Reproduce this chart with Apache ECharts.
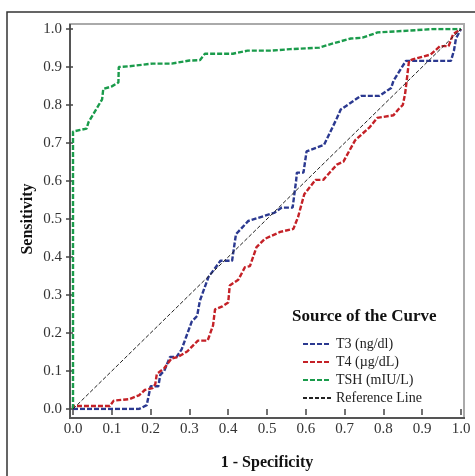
<!DOCTYPE html>
<html>
<head>
<meta charset="utf-8">
<script src="https://cdn.jsdelivr.net/npm/echarts@6/dist/echarts.min.js"></script>
<style>html,body{margin:0;padding:0;background:#fff;}#c{width:475px;height:476px;}</style>
</head>
<body>
<div id="c"></div>
<script>
const tickLabels = ['0.0','0.1','0.2','0.3','0.4','0.5','0.6','0.7','0.8','0.9','1.0'];
const seriesNames = ['T3 (ng/dl)', 'T4 (\u00b5g/dL)', 'TSH (mIU/L)', 'Reference Line'];
const t3 = [[0,0],[0.17,0],[0.19,0.01],[0.2,0.06],[0.22,0.06],[0.225,0.09],[0.235,0.10],[0.25,0.137],[0.267,0.137],[0.28,0.157],[0.306,0.23],[0.32,0.245],[0.327,0.285],[0.349,0.347],[0.38,0.39],[0.41,0.39],[0.42,0.46],[0.452,0.495],[0.49,0.507],[0.52,0.517],[0.538,0.53],[0.566,0.53],[0.575,0.6],[0.577,0.622],[0.594,0.622],[0.602,0.678],[0.647,0.695],[0.68,0.765],[0.69,0.788],[0.742,0.824],[0.79,0.824],[0.82,0.845],[0.826,0.864],[0.858,0.916],[0.974,0.916],[0.982,0.944],[0.987,0.975],[1,1]];
const t4 = [[0,0],[0,0.008],[0.095,0.008],[0.105,0.022],[0.145,0.026],[0.17,0.036],[0.185,0.05],[0.205,0.055],[0.212,0.065],[0.216,0.092],[0.235,0.107],[0.254,0.133],[0.271,0.137],[0.295,0.152],[0.322,0.18],[0.347,0.18],[0.361,0.22],[0.366,0.262],[0.385,0.27],[0.4,0.28],[0.404,0.325],[0.426,0.34],[0.443,0.373],[0.456,0.376],[0.473,0.426],[0.495,0.448],[0.534,0.466],[0.568,0.474],[0.58,0.505],[0.596,0.565],[0.625,0.603],[0.645,0.603],[0.68,0.643],[0.697,0.651],[0.727,0.707],[0.765,0.742],[0.784,0.766],[0.826,0.773],[0.84,0.79],[0.85,0.8],[0.856,0.83],[0.86,0.864],[0.866,0.916],[0.875,0.92],[0.922,0.933],[0.946,0.955],[0.968,0.955],[0.98,0.987],[1,1]];
const tsh = [[0,0],[0,0.73],[0.035,0.738],[0.04,0.755],[0.075,0.815],[0.078,0.842],[0.1,0.849],[0.117,0.859],[0.118,0.9],[0.145,0.902],[0.205,0.909],[0.254,0.909],[0.3,0.917],[0.327,0.918],[0.34,0.935],[0.412,0.935],[0.45,0.943],[0.51,0.943],[0.56,0.947],[0.635,0.951],[0.67,0.962],[0.716,0.975],[0.746,0.977],[0.785,0.991],[0.87,0.996],[0.93,1.0],[1,1]];
const refLine = [[0,0],[1,1]];

const serif = "'Liberation Serif','Times New Roman',serif";
const chart = echarts.init(document.getElementById('c'), null, {renderer:'canvas'});
function curve(name, data, color) {
  return {name, type:'line', data, symbol:'none', silent:true, animation:false,
    lineStyle:{color, width:2.4, type:[5,2]}, itemStyle:{color}};
}
chart.setOption({
  backgroundColor:'#fff',
  animation:false,
  title:{text:'Source of the Curve', left:287, top:303,
    textStyle:{fontFamily:serif, fontSize:17, fontWeight:'bold', color:'#111'}},
  legend:{orient:'vertical', left:297, top:332, itemWidth:28, itemHeight:14, itemGap:4,
    data:seriesNames, selectedMode:false,
    itemStyle:{opacity:0},
    textStyle:{fontFamily:serif, fontSize:14, color:'#222'}},
  grid:{left:73, right:14, top:29, bottom:62},
  xAxis:{type:'value', min:0, max:1, interval:0.1, offset:4,
    name:'1 - Specificity', nameLocation:'middle', nameGap:42,
    nameTextStyle:{fontFamily:serif, fontSize:16, fontWeight:'bold', color:'#111'},
    axisLine:{show:false}, splitLine:{show:false},
    axisTick:{show:true, length:6, lineStyle:{color:'#444', width:1.5}},
    axisLabel:{margin:9, fontFamily:serif, fontSize:15, color:'#333',
      formatter:(v)=>tickLabels[Math.round(v*10)]}},
  yAxis:{type:'value', min:0, max:1, interval:0.1, offset:3,
    name:'Sensitivity', nameLocation:'middle', nameGap:34, nameRotate:90, nameMoveOverlap:false,
    nameTextStyle:{fontFamily:serif, fontSize:16, fontWeight:'bold', color:'#111'},
    axisLine:{show:false}, splitLine:{show:false},
    axisTick:{show:true, length:7, lineStyle:{color:'#444', width:1.5}},
    axisLabel:{margin:8, fontFamily:serif, fontSize:15, color:'#333',
      formatter:(v)=>tickLabels[Math.round(v*10)]}},
  graphic:[
    {type:'rect', z:-10, shape:{x:7, y:12, width:480, height:480}, style:{fill:'none', stroke:'#333', lineWidth:1.5}},
    {type:'rect', z:-5, shape:{x:70, y:24, width:394, height:394}, style:{fill:'#fff', stroke:'#aaa', lineWidth:2}},
    {type:'line', z:-4, shape:{x1:70, y1:24, x2:70, y2:419}, style:{stroke:'#555', lineWidth:2}},
    {type:'line', z:-4, shape:{x1:69, y1:418, x2:465, y2:418}, style:{stroke:'#555', lineWidth:2}}
  ],
  series:[
    curve(seriesNames[0], t3, '#2b3990'),
    curve(seriesNames[1], t4, '#c42127'),
    curve(seriesNames[2], tsh, '#1a9b4b'),
    {name:seriesNames[3], type:'line', data:refLine, symbol:'none', silent:true,
      lineStyle:{color:'#222', width:1, type:[4,2]}, itemStyle:{color:'#222'}}
  ]
});
</script>
</body>
</html>
